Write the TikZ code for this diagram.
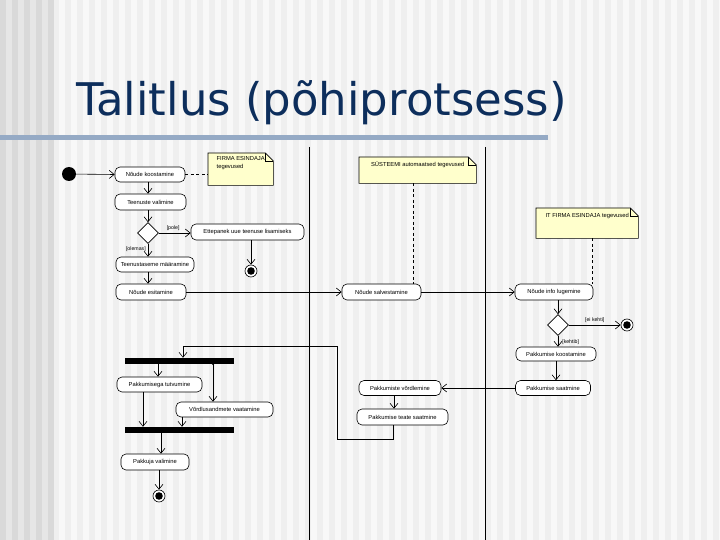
\documentclass[tikz,border=0pt]{standalone}
\usepackage{fontspec}
\setmainfont{Liberation Sans}
\newfontfamily\titlefont{DejaVu Sans}
\usetikzlibrary{arrows.meta,shapes.geometric,backgrounds}
\definecolor{bgA}{HTML}{F8F8F8}
\definecolor{bgB}{HTML}{EFEFEF}
\definecolor{bgC}{HTML}{E6E6E6}
\definecolor{bgD}{HTML}{D9D9D9}
\definecolor{titleblue}{HTML}{0D2E5C}
\definecolor{barblue}{HTML}{95AAC5}
\definecolor{notey}{HTML}{FFFFCC}
\begin{document}
\begin{tikzpicture}[x=1pt,y=-1pt,
  every node/.style={font=\fontsize{5.8}{6.8}\selectfont, inner sep=1pt},
  act/.style={draw, fill=white, rectangle, rounded corners=5pt, line width=0.6pt, minimum height=15pt},
  dec/.style={draw, fill=white, diamond, aspect=1, minimum width=21pt, minimum height=21pt, inner sep=0pt, line width=0.6pt},
  syncbar/.style={fill=black, rectangle, minimum width=109pt, minimum height=6pt, inner sep=0pt},
  startst/.style={circle, fill=black, minimum size=14pt, inner sep=0pt},
  endst/.style={circle, draw, fill=white, line width=0.6pt, minimum size=12pt, inner sep=0pt,
    path picture={\fill[black] (path picture bounding box.center) circle (3.8pt);}},
  notebox/.style={rectangle, anchor=north west, align=left, inner sep=3pt},
  arr/.style={-{Straight Barb[length=5pt,width=8pt]}, line width=0.6pt},
  dashl/.style={dashed, dash pattern=on 3pt off 2.5pt, line width=0.6pt},
  lbl/.style={font=\fontsize{5.2}{6}\selectfont}
]
\useasboundingbox (0,0) rectangle (720,540);
% background
\begin{scope}[on background layer]
\fill[bgA] (0,0) rectangle (720,540);
\foreach \i in {0,...,55} { \fill[bgB] (53+12*\i,0) rectangle (59+12*\i,540); }
\fill[bgC] (0,0) rectangle (53,540);
\foreach \i in {0,...,4} { \fill[bgD] (12*\i,0) rectangle (6+12*\i,540); }
\end{scope}
% title
\node[anchor=base west, inner sep=0pt, font=\titlefont\fontsize{45}{50}\selectfont, text=titleblue] (title) at (76,116) {Talitlus (põhiprotsess)};
\fill[barblue] (0,135) rectangle (548,140);
% lanes
\draw[line width=0.7pt] (309,147) -- (309,540);
\draw[line width=0.7pt] (485,147) -- (485,540);

% notes
\node[notebox, minimum width=65pt, text height=12pt, text depth=14pt] (n1) at (208,153) {FIRMA ESINDAJA\\[0.5pt]tegevused};
\node[notebox, minimum width=117pt, text height=6.5pt, text depth=13.5pt] (n2) at (359,157) {SÜSTEEMI automaatsed tegevused};
\node[notebox, minimum width=102pt, text height=6pt, text depth=18pt] (n3) at (536,208) {IT FIRMA ESINDAJA tegevused};
\begin{scope}[on background layer]
\foreach \n in {n1,n2,n3} {
  \draw[fill=notey, line width=0.6pt] (\n.north west) -- ([xshift=-8pt]\n.north east) -- ([yshift=-8pt]\n.north east) -- (\n.south east) -- (\n.south west) -- cycle;
  \draw[line width=0.6pt] ([xshift=-8pt]\n.north east) -- ([xshift=-8pt,yshift=-8pt]\n.north east) -- ([yshift=-8pt]\n.north east);
}
\end{scope}

% lane 1
\node[startst] (s0) at (69,174) {};
\node[act, minimum width=70pt] (a1) at (150,174.5) {Nõude koostamine};
\node[act, minimum width=71pt, minimum height=16pt] (a2) at (150.5,202) {Teenuste valimine};
\node[dec] (d1) at (148,233) {};
\node[act, minimum width=113pt, minimum height=16pt] (a3) at (247.5,232) {Ettepanek uue teenuse lisamiseks};
\node[endst] (e1) at (251,271) {};
\node[act, minimum width=78pt] (a4) at (155,264.5) {Teenustaseme määramine};
\node[act, minimum width=70pt, minimum height=16pt] (a5) at (151,292) {Nõude esitamine};
% lane 2
\node[act, minimum width=79pt, minimum height=16pt] (a6) at (381.5,292) {Nõude salvestamine};
% lane 3
\node[act, minimum width=78pt, minimum height=16pt] (a7) at (554,292) {Nõude info lugemine};
\node[dec] (d2) at (558,325) {};
\node[endst] (e2) at (627,325) {};
\node[act, minimum width=80pt, minimum height=14pt] (a8) at (556,354) {Pakkumise koostamine};
\node[act, minimum width=75pt] (a9) at (553,388) {Pakkumise saatmine};
% lane 2 again
\node[act, minimum width=82pt] (a10) at (400,388) {Pakkumiste võrdlemine};
\node[act, minimum width=91pt, minimum height=16pt] (a11) at (402.5,417) {Pakkumise teate saatmine};
% lane 1 again
\node[syncbar] (bar1) at (179.5,361) {};
\node[act, minimum width=85pt] (a12) at (159.5,384.5) {Pakkumisega tutvumine};
\node[act, minimum width=97pt] (a13) at (224.5,409.5) {Võrdlusandmete vaatamine};
\node[syncbar] (bar2) at (179.5,430) {};
\node[act, minimum width=68pt, minimum height=16pt] (a14) at (155,462) {Pakkuja valimine};
\node[endst] (e3) at (159,496) {};

% helper x-positions
\coordinate (x148) at (148,0);
\coordinate (x251) at (251,0);
\coordinate (x558) at (558,0);
\coordinate (x556) at (556,0);
\coordinate (x394) at (394,0);
\coordinate (x413) at (413,0);
\coordinate (x592) at (592,0);
\coordinate (x158) at (158,0);
\coordinate (x213) at (213,0);
\coordinate (x143) at (143,0);
\coordinate (x182) at (182,0);
\coordinate (x161) at (161,0);
\coordinate (x159) at (159,0);
\coordinate (c1) at (393,439);
\coordinate (c2) at (337,439);
\coordinate (c3) at (337,346);
\coordinate (c4) at (183,346);

% connectors
\draw[arr] (s0) -- (a1.west);
\draw[arr] (a1.south -| x148) -- (a2.north -| x148);
\draw[arr] (a2.south -| x148) -- (d1.north);
\draw[arr] (d1.east) -- node[lbl, above, pos=0.45, yshift=1pt] (l1) {[pole]} (a3.west |- d1.east);
\draw[arr] (a3.south -| x251) -- (e1);
\draw[arr] (d1.south) -- node[lbl, left, pos=0.45, xshift=-1pt] (l2) {[olemas]} (a4.north -| d1.south);
\draw[arr] (a4.south -| x148) -- (a5.north -| x148);
\draw[arr] (a5.east) -- (a6.west);
\draw[arr] (a6.east) -- (a7.west);
\draw[arr] (a7.south -| x558) -- (d2.north);
\draw[arr] (d2.east) -- node[lbl, above, pos=0.5, yshift=1pt] (l3) {[ei kehti]} (e2);
\draw[arr] (d2.south) -- node[lbl, right, pos=0.55, xshift=3pt] (l4) {[kehtib]} (a8.north -| d2.south);
\draw[arr] (a8.south -| x556) -- (a9.north -| x556);
\draw[arr] (a9.west) -- (a10.east);
\draw[arr] (a10.south -| x394) -- (a11.north -| x394);
\draw[arr] (a11.south -| c1) -- (c1) -- (c2) -- (c3) -- (c4) -- (bar1.north -| c4);
\draw[arr] (bar1.south -| x158) -- (a12.north -| x158);
\draw[arr] (bar1.south -| x213) -- (a13.north -| x213);
\fill (bar1.south -| x213) circle (1pt);
\draw[arr] (a12.south -| x143) -- (bar2.north -| x143);
\draw[arr] (a13.south -| x182) -- (bar2.north -| x182);
\draw[arr] (bar2.south -| x161) -- (a14.north -| x161);
\draw[arr] (a14.south -| x159) -- (e3);
% note links
\draw[dashl] (a1.east) -- (n1.west |- a1.east);
\draw[dashl] (n2.south -| x413) -- (a6.north -| x413);
\draw[dashl] (n3.south -| x592) -- (a7.north -| x592);
\end{tikzpicture}
\end{document}
